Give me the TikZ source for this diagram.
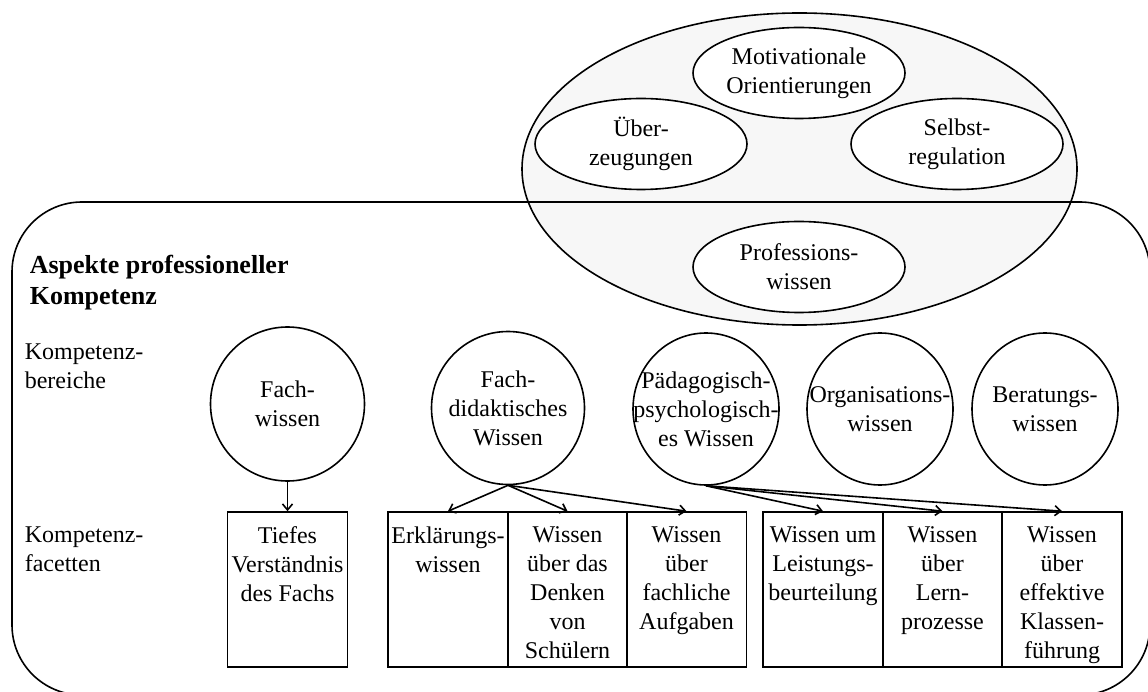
\documentclass[tikz,border=0pt]{standalone}
\usepackage{fontspec}
\setmainfont{Liberation Serif}
\usetikzlibrary{shapes.geometric,arrows.meta}
\begin{document}
\begin{tikzpicture}[x=1pt,y=-1pt,
  line width=1.6pt,
  every node/.style={font=\fontsize{24}{29}\selectfont},
  hull/.style={ellipse,draw,fill=black!3,minimum width=555pt,minimum height=312pt,inner sep=0pt},
  aspect/.style={ellipse,draw,fill=white,minimum width=212pt,minimum height=91pt,inner sep=0pt},
  areanode/.style={ellipse,draw,fill=white,inner sep=0pt},
  facet/.style={rectangle,draw,minimum width=120pt,minimum height=155pt,inner sep=0pt},
  txt/.style={align=center,inner sep=0pt},
  facettxt/.style={align=center,inner sep=0pt,anchor=north,yshift=-14.5pt},
  rowlabel/.style={align=left,inner sep=0pt,anchor=north west},
  arr/.style={-{Straight Barb[length=6pt,width=10pt]}},
]
\useasboundingbox (0,0) rectangle (1148,692);
\clip (0,0) rectangle (1148,692);

% outer ellipse holding the aspects
\node[hull] (hull) at (799.5,169) {};

% frame of professional competence
\node[draw,rectangle,rounded corners=70pt,minimum width=1138pt,minimum height=493pt,inner sep=0pt] (frame) at (581,448.5) {};

% aspects
\node[aspect] (mot) at (799,73) {};
\node[txt] (mott) at (mot) {Motivationale\\Orientierungen};
\node[aspect] (ueb) at (641,144) {};
\node[txt] (uebt) at (ueb) {Über-\\zeugungen};
\node[aspect] (sel) at (957,144) {};
\node[txt] (selt) at (sel) {Selbst-\\regulation};
\node[aspect] (prof) at (799,267) {};
\node[txt] (proft) at (prof) {Professions-\\wissen};

% labels
\node[rowlabel,font=\fontsize{26}{31}\selectfont\bfseries] (title) at (29,254) {Aspekte professioneller\\Kompetenz};
\node[rowlabel] (rowA) at (24,343) {Kompetenz-\\bereiche};
\node[rowlabel] (rowB) at (24,526) {Kompetenz-\\facetten};

% competence areas
\node[areanode,minimum width=154pt,minimum height=154pt] (fw) at (287.5,404) {};
\node[txt] (fwt) at (fw) {Fach-\\wissen};
\node[areanode,minimum width=153pt,minimum height=153pt] (fd) at (508,408) {};
\node[txt] (fdt) at (fd) {Fach-\\didaktisches\\Wissen};
\node[areanode,minimum width=146pt,minimum height=152pt] (pp) at (706,409) {};
\node[txt] (ppt) at (pp) {Pädagogisch-\\psychologisch-\\es Wissen};
\node[areanode,minimum width=146pt,minimum height=152pt] (ow) at (880,409) {};
\node[txt] (owt) at (ow) {Organisations-\\wissen};
\node[areanode,minimum width=146pt,minimum height=152pt] (bw) at (1045,409) {};
\node[txt] (bwt) at (bw) {Beratungs-\\wissen};

% competence facets
\node[facet] (f1) at (287.5,589.5) {};
\node[facettxt] (f1t) at (f1.north) {Tiefes\\Verständnis\\des Fachs};
\node[facet] (f2) at (448,589.5) {};
\node[facettxt] (f2t) at (f2.north) {Erklärungs-\\wissen};
\node[facet] (f3) at (567.5,589.5) {};
\node[facettxt] (f3t) at (f3.north) {Wissen\\über das\\Denken\\von\\Schülern};
\node[facet] (f4) at (686.5,589.5) {};
\node[facettxt] (f4t) at (f4.north) {Wissen\\über\\fachliche\\Aufgaben};
\node[facet] (f5) at (823,589.5) {};
\node[facettxt] (f5t) at (f5.north) {Wissen um\\Leistungs-\\beurteilung};
\node[facet] (f6) at (942.5,589.5) {};
\node[facettxt] (f6t) at (f6.north) {Wissen\\über\\Lern-\\prozesse};
\node[facet] (f7) at (1062,589.5) {};
\node[facettxt] (f7t) at (f7.north) {Wissen\\über\\effektive\\Klassen-\\führung};

% connectors
\draw[arr] (fw.south) -- (f1.north);
\draw[arr] (fd.south) -- (f2.north);
\draw[arr] (fd.south) -- (f3.north);
\draw[arr] (fd.south) -- (f4.north);
\draw[arr] (pp.south) -- (f5.north);
\draw[arr] (pp.south) -- (f6.north);
\draw[arr] (pp.south) -- (f7.north);
\end{tikzpicture}
\end{document}
